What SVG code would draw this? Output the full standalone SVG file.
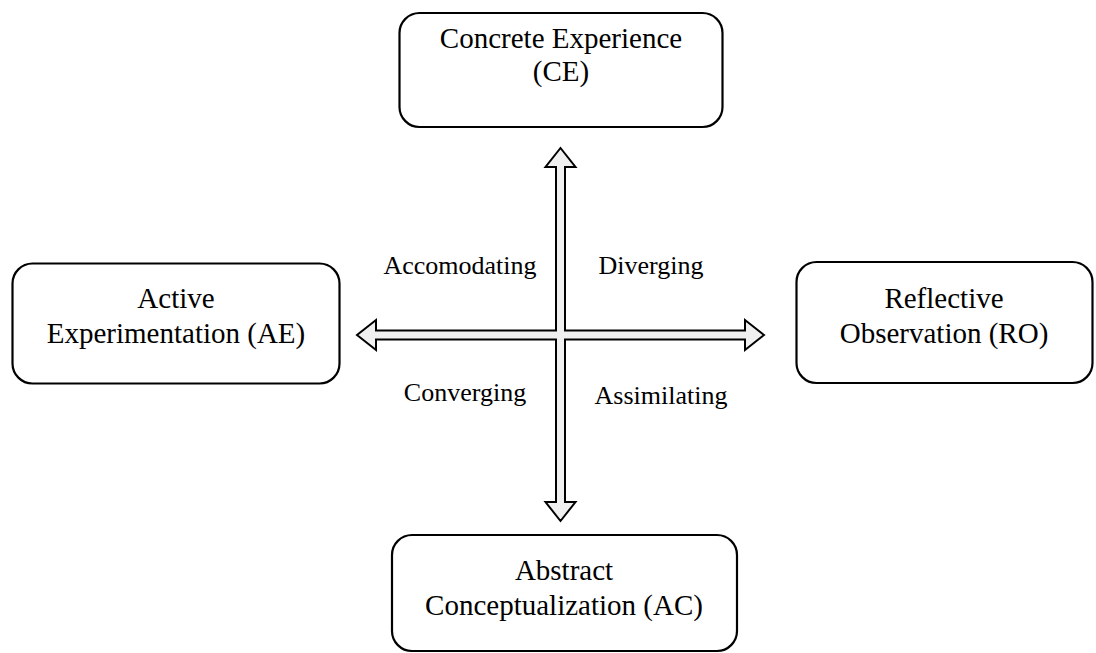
<svg xmlns="http://www.w3.org/2000/svg" width="1096" height="653" viewBox="0 0 1096 653">
<style>
.box{fill:#fff;stroke:#000;stroke-width:2.2}
.t{font-family:"Liberation Serif","Times New Roman",serif;font-size:29px;fill:#000;text-anchor:middle}
.l{font-family:"Liberation Serif","Times New Roman",serif;font-size:26px;fill:#000;text-anchor:middle}
.arr{fill:#f0f0f0;stroke:#000;stroke-width:2;stroke-linejoin:miter}
</style>
<rect width="1096" height="653" fill="#fff"/>
<g id="connectors">
<path class="arr" d="M560.5,148 L575.5,167 L565,167 L565,330.5 L745,330.5 L745,320 L764,335 L745,350 L745,339.5 L565,339.5 L565,502 L575.5,502 L560.5,521 L545.5,502 L556,502 L556,339.5 L376,339.5 L376,350 L357,335 L376,320 L376,330.5 L556,330.5 L556,167 L545.5,167 Z"/>
</g>
<g id="ce">
<rect class="box" x="399.5" y="13" width="323" height="114" rx="20"/>
<text class="t" x="561" y="48">Concrete Experience</text>
<text class="t" x="561" y="81">(CE)</text>
</g>
<g id="ae">
<rect class="box" x="12.5" y="263.5" width="327" height="120" rx="20"/>
<text class="t" x="176" y="308">Active</text>
<text class="t" x="176" y="343">Experimentation (AE)</text>
</g>
<g id="ro">
<rect class="box" x="796.5" y="262" width="296" height="121" rx="20"/>
<text class="t" x="944" y="308">Reflective</text>
<text class="t" x="944" y="343">Observation (RO)</text>
</g>
<g id="ac">
<rect class="box" x="392" y="535" width="345" height="116" rx="20"/>
<text class="t" x="564" y="580">Abstract</text>
<text class="t" x="564" y="615">Conceptualization (AC)</text>
</g>
<g id="labels">
<text class="l" x="460" y="274">Accomodating</text>
<text class="l" x="651" y="274">Diverging</text>
<text class="l" x="465" y="401">Converging</text>
<text class="l" x="661" y="404">Assimilating</text>
</g>
</svg>
